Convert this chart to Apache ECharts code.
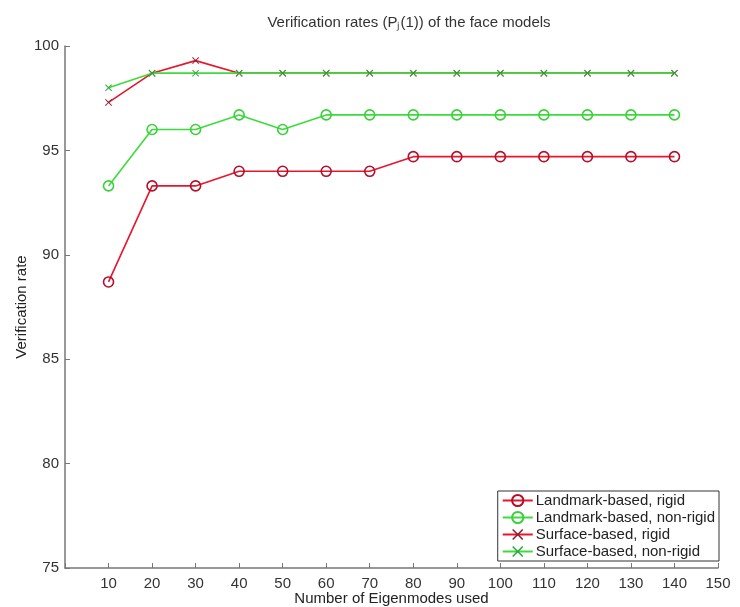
<!DOCTYPE html>
<html>
<head>
<meta charset="utf-8">
<script src="https://cdn.jsdelivr.net/npm/echarts@6/dist/echarts.min.js"></script>
<style>
  html, body { margin: 0; padding: 0; background: #fff; }
  #chart { width: 740px; height: 607px; }
</style>
</head>
<body>
<div id="chart"></div>
<script>
// eigenmodes used (x)
const modes = [10, 20, 30, 40, 50, 60, 70, 80, 90, 100, 110, 120, 130, 140];
// verification rates
const landmarkRigid    = [88.7, 93.3, 93.3, 94.0, 94.0, 94.0, 94.0, 94.7, 94.7, 94.7, 94.7, 94.7, 94.7, 94.7];
const landmarkNonRigid = [93.3, 96.0, 96.0, 96.7, 96.0, 96.7, 96.7, 96.7, 96.7, 96.7, 96.7, 96.7, 96.7, 96.7];
const surfaceRigid     = [97.3, 98.7, 99.3, 98.7, 98.7, 98.7, 98.7, 98.7, 98.7, 98.7, 98.7, 98.7, 98.7, 98.7];
const surfaceNonRigid  = [98.0, 98.7, 98.7, 98.7, 98.7, 98.7, 98.7, 98.7, 98.7, 98.7, 98.7, 98.7, 98.7, 98.7];
const seriesNames = ['Landmark-based, rigid', 'Landmark-based, non-rigid', 'Surface-based, rigid', 'Surface-based, non-rigid'];

const RED = '#e8152c';
const GREEN = '#3ddc3d';
const FONT = 'Liberation Sans';
// x-shaped marker
const CROSS = 'path://M0,1L1,0L5,4L9,0L10,1L6,5L10,9L9,10L5,6L1,10L0,9L4,5Z';

function pairs(ys) {
  return modes.map((x, i) => [x, ys[i]]);
}

function mkSeries(name, ys, color, symbol, size, edge) {
  return {
    name: name,
    type: 'line',
    data: pairs(ys),
    symbol: symbol,
    symbolSize: size,
    showAllSymbol: true,
    lineStyle: { color: color, width: 1.6 },
    itemStyle: symbol === 'circle'
      ? { color: 'transparent', borderColor: edge, borderWidth: 1.6 }
      : { color: edge, borderWidth: 0 },
    emphasis: { disabled: true },
    animation: false
  };
}

let myChart = echarts.init(document.getElementById('chart'));

myChart.setOption({
  backgroundColor: '#fff',
  animation: false,
  title: {
    text: 'Verification rates (P\u2c7c(1)) of the face models',
    left: 404,
    textAlign: 'center',
    top: 10,
    textStyle: { fontFamily: FONT, fontSize: 15, fontWeight: 'normal', color: '#333' }
  },
  grid: { left: 65, right: 22, top: 46, bottom: 39, outerBoundsMode: 'none' },
  xAxis: {
    type: 'value',
    min: 0,
    max: 150,
    interval: 10,
    name: 'Number of Eigenmodes used',
    nameLocation: 'middle',
    nameGap: 23,
    nameMoveOverlap: false,
    nameTextStyle: { fontFamily: FONT, fontSize: 15, color: '#222' },
    axisLine: { lineStyle: { color: '#777', width: 1.5 } },
    axisTick: { inside: true, length: 5, lineStyle: { color: '#777' } },
    axisLabel: {
      fontFamily: FONT, fontSize: 15, color: '#333', margin: 8,
      formatter: v => (v === 0 ? '' : v)
    },
    splitLine: { show: false }
  },
  yAxis: {
    type: 'value',
    min: 75,
    max: 100,
    interval: 5,
    name: 'Verification rate',
    nameLocation: 'middle',
    nameGap: 36,
    nameMoveOverlap: false,
    nameTextStyle: { fontFamily: FONT, fontSize: 15, color: '#222' },
    axisLine: { show: true, lineStyle: { color: '#777', width: 1.5 } },
    axisTick: { show: true, inside: true, length: 5, lineStyle: { color: '#777' } },
    axisLabel: { fontFamily: FONT, fontSize: 15, color: '#333', margin: 6 },
    splitLine: { show: false }
  },
  legend: {
    orient: 'vertical',
    right: 21,
    bottom: 46,
    padding: [2, 4, 2, 4],
    itemGap: 2,
    itemWidth: 30,
    itemHeight: 14,
    backgroundColor: '#fff',
    borderColor: '#333',
    borderWidth: 1,
    borderRadius: 0,
    textStyle: { fontFamily: FONT, fontSize: 15, color: '#222', padding: [0, 0, 0, -2] },
    data: seriesNames
  },
  series: [
    mkSeries(seriesNames[0], landmarkRigid, RED, 'circle', 10, '#b0102a'),
    mkSeries(seriesNames[1], landmarkNonRigid, GREEN, 'circle', 10, '#3ccf3c'),
    mkSeries(seriesNames[2], surfaceRigid, RED, CROSS, 7, '#8a2030'),
    mkSeries(seriesNames[3], surfaceNonRigid, GREEN, CROSS, 7, '#2fa83f')
  ]
});
</script>
</body>
</html>
